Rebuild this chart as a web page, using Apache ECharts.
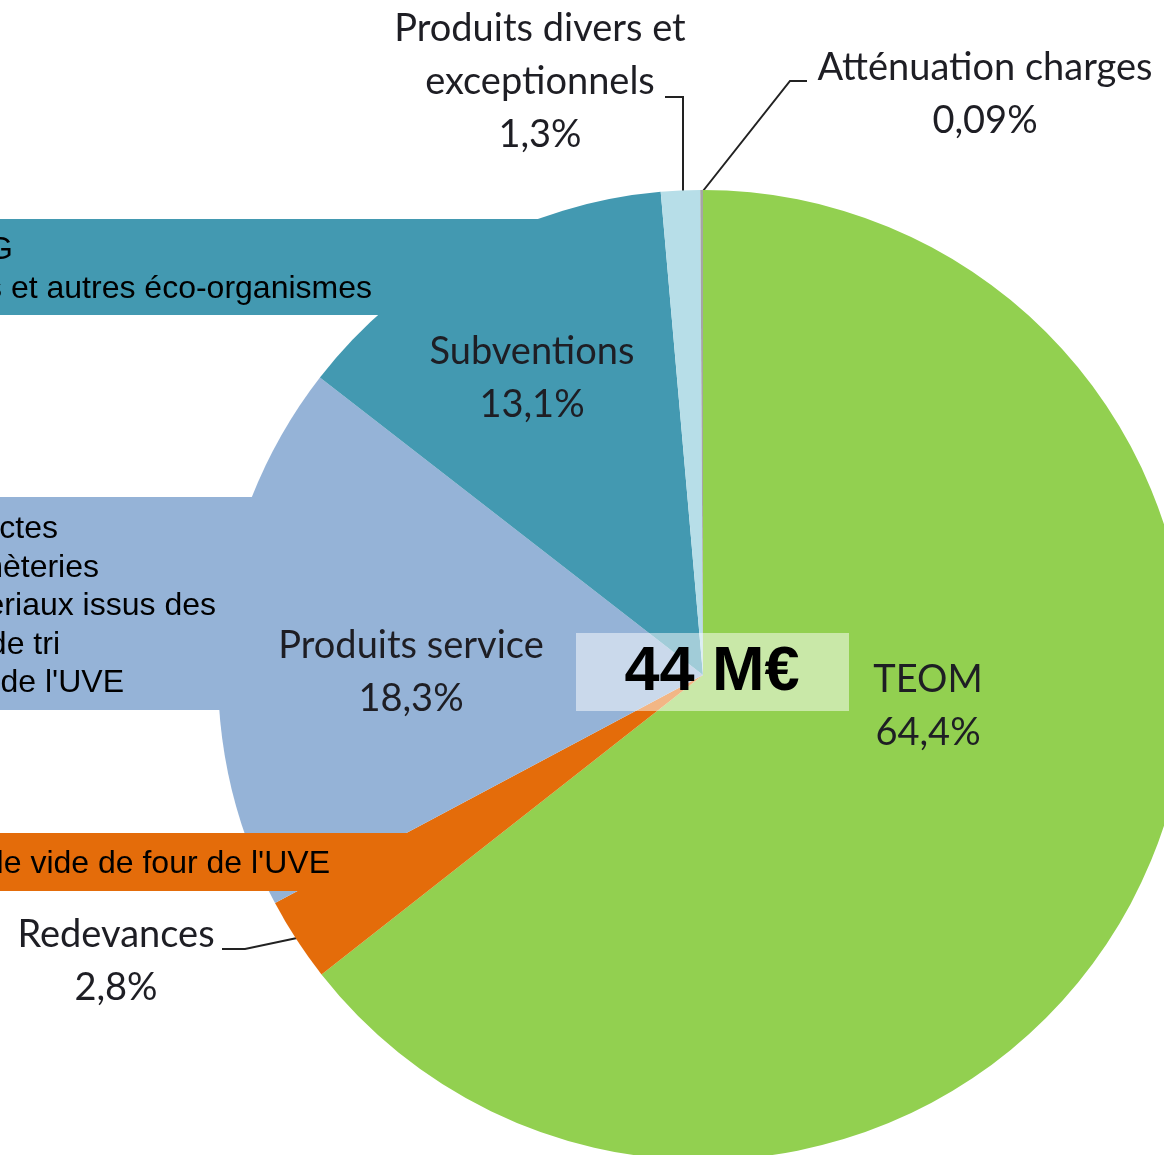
<!DOCTYPE html>
<html>
<head>
<meta charset="utf-8">
<script src="https://cdn.jsdelivr.net/npm/echarts@6/dist/echarts.min.js"></script>
<style>
html,body{margin:0;padding:0;background:#fff;}
#chart{width:1164px;height:1155px;}
</style>
</head>
<body>
<div id="chart"></div>
<script>
// ---- data ----
var categories = ['TEOM', 'Redevances', 'Produits service', 'Subventions', 'Produits divers et\nexceptionnels', 'Atténuation charges'];
var values = [64.4, 2.8, 18.3, 13.1, 1.3, 0.09];
var colors = ['#92D050', '#E46C0A', '#95B3D7', '#4399B1', '#B7DEE8', '#A5A5A5'];
var totalLabel = '44 M€';
var tealBoxLines = ['G', 's et autres éco-organismes'];
var blueBoxLines = ['ctes', 'hèteries', 'ériaux issus des', 'de tri', 'de l\'UVE'];
var orangeBoxLines = ['le vide de four de l\'UVE'];

// ---- layout (label placement, not data) ----
var labelPos = [
  {x: 928, y: 706},
  {x: 116, y: 961, line: [[222, 949], [245, 949], [297, 938]]},
  {x: 411, y: 672},
  {x: 532, y: 378},
  {x: 540, y: 82, line: [[665, 97], [683, 97], [683, 191]]},
  {x: 985, y: 94, line: [[807, 81], [790, 81], [703, 191]]}
];

function fmt(v) { return String(v).replace('.', ',') + '%'; }

var chart = echarts.init(document.getElementById('chart'), null, {renderer: 'canvas'});

var data = categories.map(function (c, i) {
  return {
    name: c,
    value: values[i],
    itemStyle: {color: colors[i]},
    labelLine: {show: !!labelPos[i].line}
  };
});

function textLines(lines, rightX, ys) {
  return lines.map(function (t, i) {
    return {
      type: 'text', z: 101,
      style: {
        text: t, x: rightX[i], y: ys[i],
        textAlign: 'right', textVerticalAlign: 'middle',
        font: '32px "Liberation Sans", Arial, sans-serif', fill: '#000'
      }
    };
  });
}

var option = {
  backgroundColor: '#ffffff',
  animation: false,
  series: [{
    type: 'pie',
    center: [703, 675],
    radius: 485,
    startAngle: 90,
    clockwise: true,
    avoidLabelOverlap: false,
    data: data,
    itemStyle: {borderWidth: 0},
    label: {
      show: true,
      position: 'outside',
      formatter: function (p) { return p.name + '\n' + fmt(p.value); },
      fontFamily: 'Lato, "Open Sans", sans-serif',
      fontSize: 38,
      lineHeight: 53,
      color: '#1e1e24',
      align: 'center'
    },
    labelLine: {lineStyle: {color: '#222', width: 2}, length: 10, length2: 10},
    labelLayout: function (params) {
      var p = labelPos[params.dataIndex];
      var r = {x: p.x, y: p.y, align: 'center', verticalAlign: 'middle'};
      if (p.line) r.labelLinePoints = p.line;
      return r;
    },
    emphasis: {disabled: true}
  }],
  graphic: [
    {type: 'rect', z: 100, shape: {x: 0, y: 219, width: 545, height: 96}, style: {fill: '#4399B1'}},
    {type: 'rect', z: 100, shape: {x: 0, y: 497, width: 255, height: 213}, style: {fill: '#95B3D7'}},
    {type: 'rect', z: 100, shape: {x: 0, y: 833, width: 408, height: 58}, style: {fill: '#E46C0A'}},
    {type: 'rect', z: 100, shape: {x: 576, y: 633, width: 273, height: 78}, style: {fill: 'rgba(255,255,255,0.5)'}},
    {type: 'text', z: 101, style: {
      text: totalLabel, x: 712, y: 673, textAlign: 'center', textVerticalAlign: 'middle',
      font: 'bold 63px "Liberation Sans", Arial, sans-serif', fill: '#000'
    }}
  ].concat(textLines(tealBoxLines, [13, 372], [250, 289]))
   .concat(textLines(blueBoxLines, [58, 99, 216, 60, 124], [529, 568, 606, 645, 683]))
   .concat(textLines(orangeBoxLines, [330], [864]))
};

chart.setOption(option);
</script>
</body>
</html>
